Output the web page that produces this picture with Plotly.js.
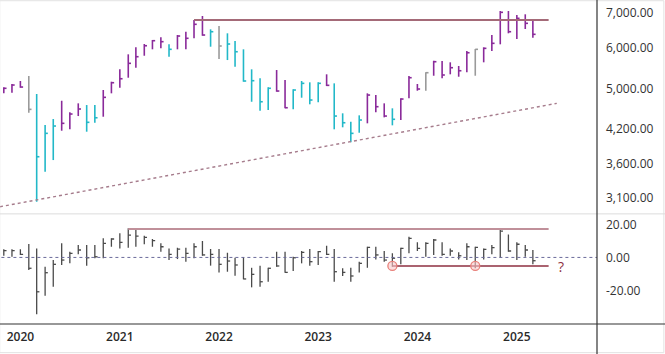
<!DOCTYPE html>
<html><head><meta charset="utf-8">
<script src="https://cdn.plot.ly/plotly-3.0.1.min.js"></script>
<style>html,body{margin:0;padding:0;background:#fff}#c{width:665px;height:354px}</style>
</head><body><div id="c"></div>
<script>
var months = ['2019-11','2019-12','2020-01','2020-02','2020-03','2020-04','2020-05','2020-06','2020-07','2020-08','2020-09','2020-10','2020-11','2020-12',
'2021-01','2021-02','2021-03','2021-04','2021-05','2021-06','2021-07','2021-08','2021-09','2021-10','2021-11','2021-12',
'2022-01','2022-02','2022-03','2022-04','2022-05','2022-06','2022-07','2022-08','2022-09','2022-10','2022-11','2022-12',
'2023-01','2023-02','2023-03','2023-04','2023-05','2023-06','2023-07','2023-08','2023-09','2023-10','2023-11','2023-12',
'2024-01','2024-02','2024-03','2024-04','2024-05','2024-06','2024-07','2024-08','2024-09','2024-10','2024-11','2024-12',
'2025-01','2025-02','2025-03'];
var priceHigh = [5037,5111,5179,5294,4890,4264,4379,4747,4511,4693,4658,4658,4977,5163,
5453,5826,6009,6097,6206,6280,6089,6344,6437,6778,6899,6505,
6601,6392,6178,5956,5453,5241,5037,5436,5202,4992,5179,5149,
5149,5334,5126,4491,4327,4451,4905,4868,4693,4591,4798,5294,
5111,5381,5664,5657,5624,5533,5911,5964,6009,6344,7053,7053,
6929,6951,6748];
var priceLow = [4905,4918,5027,4502,3040,3471,3654,4159,4185,4437,4141,4308,4424,4905,
5027,5255,5492,5790,5956,5982,5765,5956,5956,6253,6324,6025,
5706,5681,5516,5163,4726,4542,4556,4940,4591,4570,4811,4673,
4714,5065,4185,4222,3951,4122,4297,4511,4412,4259,4360,4798,
4962,4962,5301,5241,5334,5278,5381,5301,5624,5911,6089,6392,
6233,6514,6269];
var priceClose = [5015,5088,5043,4570,3708,4111,4246,4297,4477,4577,4316,4404,4819,5140,
5231,5599,5765,6051,6187,6160,5956,6316,6253,6651,6344,6437,
6044,6097,5893,5179,5186,4726,5015,4955,4603,4977,5126,4762,
5126,5081,4437,4308,4111,4360,4868,4624,4437,4374,4783,5255,
4999,5372,5639,5318,5492,5419,5867,5956,5982,6116,7012,6437,
6829,6680,6364];
var barColor = ['p','p','p','g','c','c','c','p','p','p','c','c','p','p',
'p','p','p','p','p','p','c','p','p','p','p','c',
'g','c','c','c','c','c','c','p','p','c','c','c',
'c','p','c','c','c','c','p','p','p','c','p','p',
'p','g','p','p','p','p','p','g','p','p','p','p',
'p','p','p'];
var oscHigh = [4.9,4.9,4.9,8.1,5.5,-5.7,-1.6,8.6,3.5,7.5,7.5,7.5,11.6,11.6,
14.7,17.7,17.3,13.2,11.2,8.6,5.5,5.9,5.9,8.6,10.0,5.1,
5.1,2.9,-0.2,0.1,-6.3,-5.0,-6.3,3.5,3.5,0.4,3.9,5.1,
3.9,7.1,5.1,-6.6,-6.3,-2.6,6.5,6.5,3.9,2.5,5.9,12.6,
9.2,9.2,11.2,9.2,5.5,3.1,8.6,6.5,5.5,7.5,16.7,14.0,
9.2,7.5,4.5];
var oscLow = [1.0,0.4,1.5,-7.7,-34.6,-23.3,-17.8,-4.6,-3.6,1.9,-5.0,-0.5,-0.5,6.5,
5.5,5.9,6.5,8.0,6.5,3.5,-1.6,-1.0,-2.6,-0.5,1.0,-5.0,
-9.1,-8.7,-11.1,-13.3,-18.2,-17.8,-14.8,-5.7,-9.3,-8.3,-3.6,-5.0,
-4.6,1.5,-14.8,-11.3,-14.8,-9.1,-6.3,-1.2,-2.6,-5.7,-4.2,2.5,
3.9,0.4,1.5,1.0,1.0,-1.2,-1.6,-6.6,-1.2,1.9,-0.2,3.5,
-1.6,0.4,-4.2];
var oscClose = [4.1,4.1,1.9,-6.6,-20.9,-9.3,-4.2,-1.6,2.5,4.5,-0.2,0.4,8.6,11.2,
9.2,13.6,13.0,12.2,10.2,6.5,1.9,5.1,2.5,6.5,1.5,1.9,
-4.2,-2.2,-4.6,-13.1,-10.3,-14.8,-6.6,-5.2,-9.1,-0.2,3.1,-2.6,
3.5,1.9,-8.7,-9.1,-11.3,-3.6,6.1,1.5,-1.6,-0.5,5.5,11.6,
5.5,8.6,10.6,1.9,3.9,1.0,6.5,6.1,4.9,5.9,16.0,3.9,
8.0,4.5,-2.0];
var trendDates = ['2019-10-18','2025-05-28'];
var trendValues = [2974,4693];
var resistDates = ['2021-10-01','2025-04-28'];
var resistValues = [6778,6778];
var oscUpperDates = ['2021-02-01','2025-04-28'];
var oscUpperValues = [17.3,17.3];
var oscLowerDates = ['2023-10-01','2025-04-28'];
var oscLowerValues = [-5.2,-5.2];
var markDates = ['2023-10-01','2024-08-01'];
var markValues = [-5.2,-5.2];
var priceTicks = [3100,3600,4200,5000,6000,7000];
var priceTickText = ['3,100.00','3,600.00','4,200.00','5,000.00','6,000.00','7,000.00'];
var oscTicks = [-20,0,20];
var oscTickText = ['-20.00','0.00','20.00'];
var yearTicks = ['2020-01-01','2021-01-01','2022-01-01','2023-01-01','2024-01-01','2025-01-01'];
var yearText = ['2020','2021','2022','2023','2024','2025'];

function fmt(ms){return new Date(ms).toISOString().slice(0,19).replace('T',' ');}
function base(m){var p=m.split('-');return Date.UTC(+p[0],+p[1]-1,1);}
var TICK = 10*86400000;
function segs(idx, hi, lo, cl){
  var x=[],y=[];
  idx.forEach(function(i){
    var b=base(months[i]);
    x.push(fmt(b),fmt(b),null,fmt(b),fmt(b+TICK),null);
    y.push(lo[i],hi[i],null,cl[i],cl[i],null);
  });
  return {x:x,y:y};
}
var colMap = {p:'#8a2a9a', c:'#22b8c8', g:'#9a9a9a'};
var traces = [];
['c','g','p'].forEach(function(k){
  var idx=[]; barColor.forEach(function(c,i){if(c===k)idx.push(i);});
  var s=segs(idx,priceHigh,priceLow,priceClose);
  traces.push({type:'scatter',mode:'lines',x:s.x,y:s.y,xaxis:'x',yaxis:'y',
    line:{color:colMap[k],width:1.6},hoverinfo:'skip',showlegend:false,connectgaps:false});
});
traces.push({type:'scatter',mode:'lines',x:trendDates,y:trendValues,xaxis:'x',yaxis:'y',
  line:{color:'#a67c8c',width:1.4,dash:'dot'},showlegend:false,hoverinfo:'skip'});
traces.push({type:'scatter',mode:'lines',x:resistDates,y:resistValues,xaxis:'x',yaxis:'y',
  line:{color:'#a46a78',width:2},showlegend:false,hoverinfo:'skip'});
var all=[]; months.forEach(function(m,i){all.push(i);});
var so=segs(all,oscHigh,oscLow,oscClose);
traces.push({type:'scatter',mode:'lines',x:so.x,y:so.y,xaxis:'x',yaxis:'y2',
  line:{color:'#4a4a4a',width:1.3},hoverinfo:'skip',showlegend:false});
traces.push({type:'scatter',mode:'lines',x:['2019-10-01','2025-10-31'],y:[0,0],xaxis:'x',yaxis:'y2',
  line:{color:'#6a6a9a',width:1,dash:'dot'},showlegend:false,hoverinfo:'skip'});
traces.push({type:'scatter',mode:'lines',x:oscUpperDates,y:oscUpperValues,xaxis:'x',yaxis:'y2',
  line:{color:'#c0909a',width:2},showlegend:false,hoverinfo:'skip'});
traces.push({type:'scatter',mode:'lines',x:oscLowerDates,y:oscLowerValues,xaxis:'x',yaxis:'y2',
  line:{color:'#8e2f40',width:1.5},showlegend:false,hoverinfo:'skip'});
traces.push({type:'scatter',mode:'markers',x:markDates,y:markValues,xaxis:'x',yaxis:'y2',
  marker:{symbol:'circle',size:9,color:'rgba(250,200,200,0.6)',line:{color:'#e8807a',width:1.3}},
  showlegend:false,hoverinfo:'skip'});

var P = 'paper';
var layout = {
  width:665,height:354,margin:{l:0,r:68,t:2,b:30},
  paper_bgcolor:'#ffffff',plot_bgcolor:'#ffffff',showlegend:false,
  font:{family:'Open Sans, sans-serif',size:12,color:'#333'},
  xaxis:{type:'date',anchor:'y2',range:['2019-10-18','2025-10-23'],tickvals:yearTicks,ticktext:yearText,
    showgrid:false,zeroline:false,showline:false,ticks:'',tickfont:{size:12,weight:600,color:'#2a2a2a'},ticklabelstandoff:4},
  yaxis:{type:'log',domain:[0.345,1],range:[Math.log10(2894),Math.log10(7339)],side:'right',anchor:'x',
    tickvals:priceTicks,ticktext:priceTickText,showgrid:false,zeroline:false,showline:false,ticks:'',ticklabelstandoff:8},
  yaxis2:{domain:[0,0.339],range:[-40.5,25.9],side:'right',anchor:'x',
    tickvals:oscTicks,ticktext:oscTickText,showgrid:false,zeroline:false,showline:false,ticks:'',ticklabelstandoff:8},
  shapes:[
    {type:'rect',xref:P,yref:P,x0:-0.0005,x1:1.112,y0:-0.089,y1:1.004,line:{color:'#e2e2e2',width:1}},
    {type:'line',xref:P,yref:P,x0:0,x1:1.114,y0:0.342,y1:0.342,line:{color:'#dcdcdc',width:1}},
    {type:'line',xref:P,yref:P,x0:0,x1:1.114,y0:0,y1:0,line:{color:'#333',width:1.2}},
    {type:'line',xref:P,yref:P,x0:1,x1:1,y0:-0.095,y1:1.01,line:{color:'#333',width:1.2}}
  ],
  annotations:[{x:'2025-06-13',y:-5.6,xref:'x',yref:'y2',text:'?',showarrow:false,
    font:{size:14,color:'#8e2f40'}}]
};
Plotly.newPlot('c',traces,layout,{staticPlot:true});
</script></body></html>
